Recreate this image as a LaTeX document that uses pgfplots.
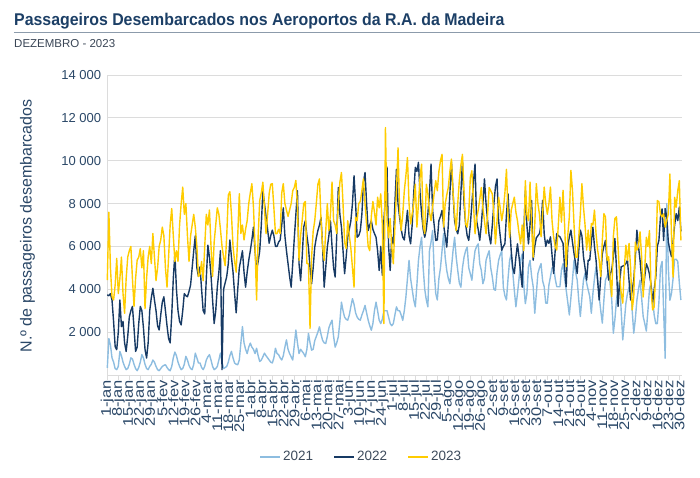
\documentclass[border=0pt]{standalone}
\usepackage{fontspec}
\setmainfont{Liberation Sans}
\newfontfamily\tickfont[FakeStretch=1.18]{Liberation Sans}
\usepackage{pgfplots}
\usepackage{pgfplotstable}
\pgfplotsset{compat=1.18}
\definecolor{c21}{HTML}{8DBDE0}
\definecolor{c22}{HTML}{173A64}
\definecolor{c23}{HTML}{FFCC00}
\definecolor{titlec}{HTML}{1C3F66}
\definecolor{labc}{HTML}{2A4767}
\definecolor{legc}{HTML}{3D4B5C}
\definecolor{subc}{HTML}{3A4656}
\definecolor{rulec}{HTML}{8C9BAB}
\definecolor{gridc}{HTML}{DCDCDC}

% 2021
\pgfplotstableread[row sep=\\,header=false]{
330\\1700\\1400\\800\\600\\300\\250\\
400\\1100\\900\\600\\400\\250\\300\\
500\\800\\750\\500\\300\\200\\350\\
600\\950\\800\\500\\300\\250\\400\\
500\\700\\600\\400\\250\\200\\300\\
400\\450\\480\\350\\250\\200\\400\\
800\\1070\\900\\600\\400\\250\\300\\
500\\870\\700\\450\\300\\250\\500\\
1020\\800\\560\\560\\350\\250\\400\\
700\\850\\950\\700\\400\\250\\300\\
400\\700\\1020\\600\\300\\350\\400\\
600\\900\\1100\\800\\560\\500\\480\\
700\\1500\\2260\\1500\\1200\\1000\\1300\\
1490\\1300\\1200\\1000\\1250\\900\\630\\
700\\850\\1020\\900\\800\\700\\600\\
560\\800\\1250\\1000\\950\\800\\700\\
900\\1300\\1640\\1200\\1000\\850\\700\\
1400\\2100\\1500\\1000\\1200\\1100\\1000\\
850\\1200\\1940\\1500\\1160\\1200\\1600\\
1800\\2000\\2250\\1900\\1620\\1500\\1470\\
1800\\2200\\2400\\2560\\1800\\1300\\1500\\
1780\\2500\\3400\\3000\\2700\\2600\\2560\\
2800\\3200\\3560\\3300\\2900\\2700\\2600\\
2560\\2800\\3000\\3250\\2900\\2560\\2300\\
2090\\2400\\3000\\3400\\3000\\2560\\2400\\
2600\\3000\\3000\\3000\\2700\\2400\\2300\\
2400\\2800\\3180\\3000\\3000\\2800\\2550\\
3000\\3640\\4500\\5350\\4500\\4000\\3500\\
3180\\4200\\5350\\6000\\6430\\5000\\4000\\
3500\\3180\\5800\\6200\\6740\\4880\\3800\\
3500\\4500\\5000\\5800\\6600\\5500\\4880\\
4500\\4260\\5000\\5800\\6430\\5500\\4880\\
4300\\4100\\5000\\5500\\5800\\5970\\5000\\
4730\\4420\\5200\\5800\\6000\\6120\\5200\\
4880\\4260\\4500\\5350\\5600\\5800\\5000\\
4570\\4000\\3950\\4800\\5350\\5600\\5800\\
4100\\3700\\3500\\4500\\5350\\5650\\4800\\
3950\\3180\\3800\\4500\\5350\\5650\\4200\\
3330\\3800\\5050\\5350\\4600\\4120\\2880\\
3800\\4740\\5000\\5200\\4400\\4120\\3350\\
3350\\4200\\4590\\5000\\5050\\4500\\4120\\
4120\\4120\\4900\\5200\\4500\\3970\\3400\\
2800\\3600\\4430\\5360\\4800\\4430\\3500\\
2730\\3600\\4430\\4740\\4300\\3970\\3660\\
2880\\3800\\4500\\5050\\4500\\3660\\3000\\
2420\\3500\\4430\\4600\\4900\\4200\\3500\\
1950\\2600\\3500\\4000\\4430\\3000\\1640\\
2500\\3350\\3800\\4100\\4280\\3000\\1950\\
2600\\3500\\4000\\4430\\3600\\2730\\2400\\
2050\\3000\\4000\\4300\\3500\\2800\\2400\\
2400\\3400\\5000\\5300\\3000\\780\\8000\\
5000\\3490\\3800\\4500\\5400\\5400\\5300\\4300\\3500\\
}\tA

% 2022
\pgfplotstableread[row sep=\\,header=false]{
3740\\3700\\3800\\3500\\2500\\1330\\1180\\
2000\\3500\\2260\\2500\\1500\\1100\\1800\\
2700\\3000\\3200\\2200\\1100\\1300\\2400\\
3200\\3000\\2200\\1200\\790\\1500\\3000\\
3600\\4050\\3500\\3000\\2300\\2100\\2800\\
3400\\3650\\3000\\2300\\1700\\1500\\2800\\
4500\\5670\\4000\\3000\\2500\\2340\\3000\\
3800\\3700\\3650\\3900\\4200\\5000\\5800\\
6500\\5000\\4600\\5050\\4000\\3000\\2850\\
4500\\6060\\5500\\4650\\3500\\2400\\3000\\
4100\\4800\\5800\\250\\4000\\4300\\4600\\
5200\\6300\\5500\\4800\\3800\\2900\\4000\\
5000\\5400\\5800\\4800\\4100\\4800\\5350\\
5800\\6300\\6900\\5800\\4900\\5300\\5800\\
7000\\8600\\8000\\7400\\6800\\6150\\6500\\
6760\\6500\\6000\\6000\\6200\\6300\\7000\\
7800\\6500\\5800\\5200\\4600\\4100\\5200\\
6400\\7500\\8600\\5200\\4400\\5500\\6900\\
7200\\6500\\5970\\5000\\4260\\5000\\5970\\
6400\\6740\\7000\\7360\\6000\\4100\\5000\\
5970\\6500\\7200\\6000\\5000\\4570\\6500\\
8750\\7500\\6900\\5800\\4730\\5500\\6430\\
6800\\7200\\8000\\9300\\8000\\6430\\6500\\
6740\\7500\\9000\\9450\\8000\\6740\\7000\\
7200\\6800\\6600\\6430\\5800\\4880\\6000\\
4650\\7200\\8320\\9700\\6000\\4880\\6430\\
6120\\8000\\9600\\8000\\7360\\6800\\6430\\
6300\\7000\\7680\\6500\\6120\\7000\\8500\\
9690\\9500\\9920\\8500\\7520\\6800\\6430\\
6800\\7520\\8500\\9840\\7680\\7000\\6280\\
6300\\7200\\7400\\7680\\7000\\6500\\5970\\
7000\\8500\\9920\\8500\\7200\\6800\\6590\\
7000\\8500\\10000\\8000\\7050\\6500\\6280\\
7000\\8000\\9000\\9840\\7200\\6800\\6280\\
7000\\8000\\9150\\8000\\7200\\6500\\6120\\
7000\\8000\\8800\\9150\\7200\\6500\\5820\\
6000\\6120\\7500\\8450\\7000\\5820\\5000\\
4730\\5500\\6120\\5500\\4800\\4100\\6500\\
8600\\7000\\6120\\7000\\8150\\5360\\6000\\
6400\\6500\\6600\\7000\\8150\\6600\\6000\\
6300\\6140\\6450\\5600\\4740\\5800\\6600\\
6500\\6450\\6300\\6140\\5000\\4120\\6000\\
6450\\6760\\6200\\5670\\5200\\4740\\5800\\
6760\\6500\\5520\\5000\\4430\\5360\\5360\\
6200\\6900\\6000\\5360\\4400\\3500\\4600\\
5670\\6000\\6280\\5300\\4430\\4700\\4900\\
5500\\6370\\5000\\3200\\4300\\5050\\5080\\
5120\\5200\\5360\\4400\\3500\\3950\\4430\\
5500\\6760\\6000\\5360\\4500\\3950\\4600\\
5190\\5000\\4700\\4200\\3350\\4000\\4570\\
6000\\6280\\7380\\7750\\6280\\7770\\7360\\
6200\\5820\\5520\\6200\\7000\\7530\\7200\\7840\\6700\\
}\tB

% 2023
\pgfplotstableread[row sep=\\,header=false]{
4430\\7600\\5000\\3650\\3500\\4200\\5440\\
3800\\4500\\5500\\3800\\2880\\4500\\5500\\
5800\\6000\\4500\\3200\\4500\\5360\\5500\\
5900\\5000\\5800\\3100\\4500\\5500\\6000\\
5200\\6600\\5500\\4400\\5000\\6000\\6300\\
6900\\6500\\5000\\4100\\5500\\7000\\7770\\
6500\\5300\\5800\\5300\\7000\\8000\\8770\\
7500\\8000\\6500\\5300\\6500\\7000\\7500\\
6900\\6000\\4600\\4700\\5300\\4400\\6000\\
7500\\7000\\7700\\6000\\4600\\6200\\7000\\
7800\\7500\\6800\\6000\\5500\\5100\\6500\\
8400\\8550\\7500\\6000\\5300\\4800\\6500\\
8460\\6600\\7000\\6300\\6800\\7200\\8000\\
8500\\8930\\7850\\6000\\3500\\6500\\8150\\
8500\\9000\\7800\\6600\\7500\\8460\\8900\\
8930\\7800\\6600\\6600\\6800\\6600\\8500\\
8930\\8000\\7700\\7400\\7700\\8000\\8600\\
8750\\9080\\7850\\5350\\6500\\7200\\8000\\
8100\\5200\\5190\\2170\\5500\\6700\\7200\\
8000\\8900\\9150\\7200\\6000\\5350\\6740\\
8000\\6740\\7500\\9000\\7200\\7000\\6600\\
8000\\9000\\9450\\8000\\6200\\5900\\7200\\
6500\\5900\\5000\\4100\\7360\\7200\\8000\\
8100\\8600\\9150\\8000\\7000\\6000\\5800\\
7400\\8100\\7600\\7000\\8300\\7800\\8450\\
7000\\2400\\11550\\7200\\6400\\7300\\6000\\
5190\\6900\\8600\\10600\\7680\\6740\\7500\\
8600\\9300\\10150\\8000\\7050\\7520\\8000\\
8900\\6900\\8000\\9220\\9840\\7000\\6600\\
8900\\8450\\7600\\7200\\7830\\8500\\9070\\
8600\\9500\\10000\\10300\\6900\\7980\\8400\\
8760\\9500\\10080\\8500\\7520\\6740\\8000\\
9070\\9800\\10300\\8500\\7050\\6900\\7500\\
9220\\9530\\8000\\6590\\7300\\7680\\8200\\
8750\\7800\\7200\\6590\\7500\\8750\\8600\\
8450\\7500\\6120\\7200\\8290\\7800\\7200\\
7680\\8500\\9600\\7500\\6430\\7680\\8000\\
8300\\7600\\7200\\6600\\6120\\7000\\5800\\
9070\\7500\\7200\\9000\\7000\\5500\\7000\\
8930\\8000\\7500\\6450\\7500\\8770\\8000\\
7500\\8000\\8770\\7200\\6450\\6000\\5830\\
7000\\8300\\7130\\8620\\7000\\5050\\6500\\
7380\\9550\\8620\\7000\\5500\\5500\\6450\\
7500\\8930\\7840\\7000\\5830\\6760\\5800\\
7070\\7000\\7700\\6600\\5830\\5360\\4590\\
6290\\7530\\7380\\5360\\5520\\4500\\3660\\
6450\\7300\\7380\\6000\\4600\\3820\\3350\\
5000\\6060\\5360\\6140\\5000\\3040\\3660\\
6200\\5830\\6000\\6680\\5520\\3640\\5000\\
6430\\6000\\6740\\4000\\3040\\3180\\5000\\
8140\\8080\\7500\\7380\\7520\\6900\\7220\\
7500\\9380\\6500\\4570\\8290\\7830\\8600\\9070\\6280\\
}\tC

\begin{document}
\begin{tikzpicture}
\begin{axis}[
  scale only axis, width=574.7pt, height=300pt,
  xmin=1, xmax=366.7, ymin=0, ymax=14000,
  scaled y ticks=false,
  axis x line*=bottom, axis y line*=left,
  axis line style={draw=gridc, line width=0.8pt, -},
  xtick={1,8,...,365},
  xticklabels={1-jan,8-jan,15-jan,22-jan,29-jan,5-fev,12-fev,19-fev,26-fev,4-mar,11-mar,18-mar,25-mar,1-abr,8-abr,15-abr,22-abr,29-abr,6-mai,13-mai,20-mai,27-mai,3-jun,10-jun,17-jun,24-jun,1-jul,8-jul,15-jul,22-jul,29-jul,5-ago,12-ago,19-ago,26-ago,2-set,9-set,16-set,23-set,30-set,7-out,14-out,21-out,28-out,4-nov,11-nov,18-nov,25-nov,2-dez,9-dez,16-dez,23-dez,30-dez},
  xtick align=outside, major tick length=5pt,
  xtick style={draw=gridc, line width=0.8pt},
  xticklabel style={rotate=90, anchor=east, inner sep=0pt, text=labc, font=\tickfont\fontsize{14}{14}\selectfont},
  ytick={2000,4000,6000,8000,10000,12000,14000},
  yticklabels={2 000,4 000,6 000,8 000,10 000,12 000,14 000},
  ytick style={draw=none},
  yticklabel style={anchor=east, inner sep=0pt, xshift=-6pt, text=labc, font=\fontsize{13}{13}\selectfont},
  ymajorgrids, grid style={draw=gridc, line width=0.8pt},
  ylabel={N.º de passageiros desembarcados},
  every axis y label/.style={at={(rel axis cs:-0.139,0.497)}, rotate=90, anchor=center, text=labc, font=\fontsize{16}{16}\selectfont},
  legend columns=3,
  legend style={at={(0.4417,-0.272)}, anchor=center, draw=none, fill=none,
    font=\fontsize{13.5}{14}\selectfont, text=legc,
    /tikz/every even column/.append style={column sep=18pt}},
  legend image code/.code={\draw[#1, line width=2pt] (0pt,0pt) -- (20pt,0pt);},
  clip=false,
]
\coordinate (O) at (rel axis cs:0,0);
\addplot[c21, line width=1.4pt, line join=round, mark=none] table[x expr=\coordindex+1, y index=0] {\tA};
\addlegendentry{2021}
\addplot[c22, line width=1.4pt, line join=round, mark=none] table[x expr=\coordindex+1, y index=0] {\tB};
\addlegendentry{2022}
\addplot[c23, line width=1.4pt, line join=round, mark=none] table[x expr=\coordindex+1, y index=0] {\tC};
\addlegendentry{2023}
\end{axis}
\pgfresetboundingbox
\coordinate (P) at ([shift={(-107.3pt,-103pt)}]O);
\useasboundingbox (P) rectangle ([shift={(700pt,478pt)}]P);
\node[anchor=base west, inner sep=0pt] at ([shift={(14pt,452.5pt)}]P)
  {\scalebox{0.935}[1]{\fontsize{17}{20}\selectfont\bfseries\color{titlec}Passageiros Desembarcados nos Aeroportos da R.A. da Madeira}};
\draw[rulec, line width=1pt] ([shift={(14pt,445.5pt)}]P) -- ([shift={(700pt,445.5pt)}]P);
\node[anchor=base west, inner sep=0pt] at ([shift={(14pt,430pt)}]P)
  {\fontsize{11.5}{13}\selectfont\color{subc}DEZEMBRO - 2023};
\end{tikzpicture}
\end{document}
